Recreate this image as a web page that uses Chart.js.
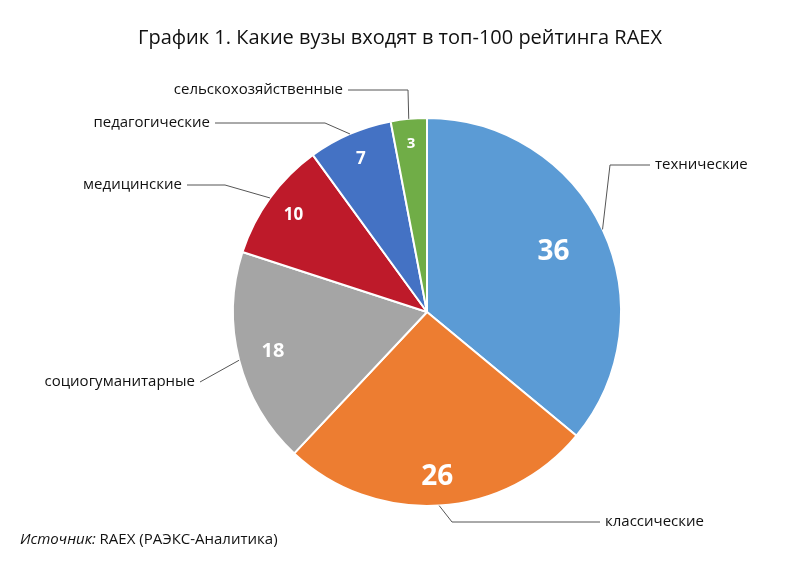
<!DOCTYPE html>
<html><head><meta charset="utf-8">
<script src="https://cdn.jsdelivr.net/npm/chart.js@4/dist/chart.umd.min.js"></script>
<style>html,body{margin:0;padding:0;background:#fff}#w{width:800px;height:561px}</style>
</head><body><div id="w"><canvas id="c"></canvas></div>
<script>
const categories = ['технические','классические','социогуманитарные','медицинские','педагогические','сельскохозяйственные'];
const values = [36,26,18,10,7,3];
const colors = ['#5b9bd5','#ed7d31','#a5a5a5','#be1a2a','#4472c4','#70ad47'];
// label layout: [elbowX, elbowY, lineEndX, textAlign], value radius factor, value font size
const labelLayout = [[610,165,650,'left'],[452,522,600,'left'],[200,382,200,'right'],[225,185,187,'right'],[325,123,215,'right'],[408,90,348,'right']];
const valueR = [0.72,0.85,0.82,0.85,0.86,0.87];
const valueFont = [28,28,20,17,17,15];
const FONT = '"Open Sans", "Noto Sans", sans-serif';
const labelsPlugin = {
  id:'lbl',
  afterDraw(chart){
    const ctx = chart.ctx;
    const arcs = chart.getDatasetMeta(0).data;
    arcs.forEach((a,i)=>{
      const mid = (a.startAngle+a.endAngle)/2;
      const ex = a.x + Math.cos(mid)*a.outerRadius, ey = a.y + Math.sin(mid)*a.outerRadius;
      const L = labelLayout[i];
      ctx.save();
      ctx.strokeStyle='#555'; ctx.lineWidth=1;
      ctx.beginPath(); ctx.moveTo(ex,ey); ctx.lineTo(L[0],L[1]); ctx.lineTo(L[2],L[1]); ctx.stroke();
      ctx.fillStyle='#111'; ctx.font='15px '+FONT; ctx.textBaseline='middle';
      ctx.textAlign=L[3];
      ctx.fillText(categories[i], L[3]==='left'? L[2]+5 : L[2]-5, L[1]);
      const r = a.outerRadius*valueR[i];
      ctx.fillStyle='#fff'; ctx.font='bold '+valueFont[i]+'px '+FONT; ctx.textAlign='center';
      ctx.fillText(String(values[i]), a.x+Math.cos(mid)*r, a.y+Math.sin(mid)*r);
      ctx.restore();
    });
    ctx.save();
    ctx.fillStyle='#111'; ctx.textBaseline='middle'; ctx.textAlign='center';
    ctx.font='20px '+FONT;
    ctx.fillText('График 1. Какие вузы входят в топ-100 рейтинга RAEX', 400, 38);
    ctx.textAlign='left'; ctx.font='italic 15px '+FONT;
    ctx.fillText('Источник:', 20, 540);
    const w = ctx.measureText('Источник: ').width;
    ctx.font='15px '+FONT;
    ctx.fillText('RAEX (РАЭКС-Аналитика)', 20+w, 540);
    ctx.restore();
  }
};
new Chart(document.getElementById('c'),{
  type:'pie',
  data:{labels:categories,datasets:[{data:values,backgroundColor:colors,borderColor:'#fff',borderWidth:2}]},
  options:{responsive:true,maintainAspectRatio:false,animation:false,
    layout:{padding:{top:117,bottom:54,left:232,right:178}},
    plugins:{legend:{display:false},tooltip:{enabled:false}}},
  plugins:[labelsPlugin]
});
</script></body></html>
